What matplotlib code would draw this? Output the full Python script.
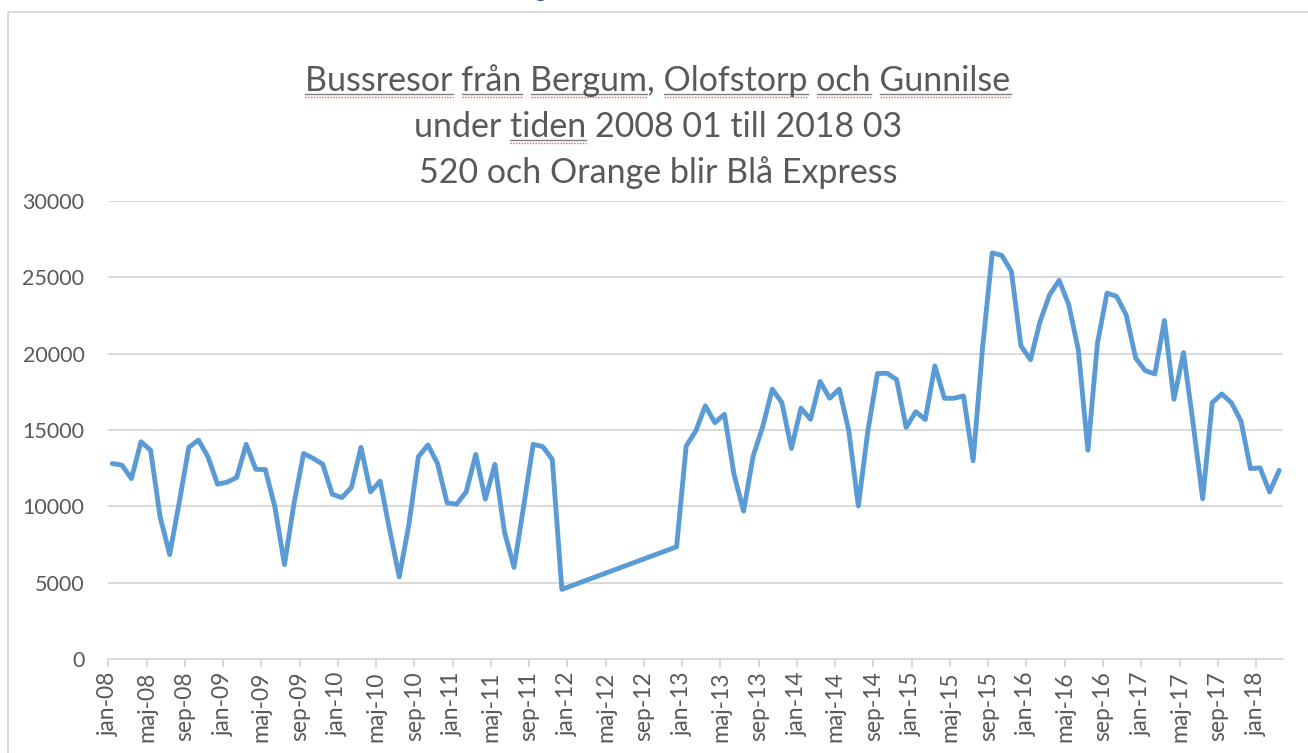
import numpy as np
import matplotlib
matplotlib.use("Agg")
import matplotlib.pyplot as plt
from matplotlib.patches import Rectangle
from matplotlib.lines import Line2D
from matplotlib.font_manager import FontProperties

plt.rcParams['font.family'] = ['Lato', 'DejaVu Sans']

# monthly bus trips, jan-08 .. mar-18 (2012 jan-nov missing)
month_names = ['jan', 'feb', 'mar', 'apr', 'maj', 'jun',
               'jul', 'aug', 'sep', 'okt', 'nov', 'dec']
years = list(range(8, 19))

trips_2008 = [12800, 12700, 11820, 14230, 13680, 9300, 6840, 10280, 13860, 14340, 13250, 11450]
trips_2009 = [11580, 11890, 14060, 12430, 12410, 9960, 6180, 10200, 13460, 13140, 12760, 10790]
trips_2010 = [10570, 11240, 13860, 10950, 11650, 8440, 5380, 8770, 13250, 14020, 12810, 10230]
trips_2011 = [10140, 10950, 13400, 10470, 12750, 8330, 6000, 9970, 14060, 13910, 13080, 4560]
trips_2012 = [None] * 11 + [7350]
trips_2013 = [13950, 14930, 16580, 15480, 16030, 12100, 9690, 13290, 15220, 17680, 16800, 13790]
trips_2014 = [16430, 15700, 18180, 17080, 17680, 14960, 10020, 14960, 18700, 18720, 18300, 15170]
trips_2015 = [16200, 15690, 19200, 17080, 17080, 17230, 12990, 20470, 26600, 26440, 25390, 20510]
trips_2016 = [19600, 22110, 23860, 24800, 23200, 20250, 13680, 20690, 23970, 23750, 22550, 19700]
trips_2017 = [18890, 18670, 22170, 17010, 20070, 15430, 10500, 16790, 17360, 16790, 15600, 12470]
trips_2018 = [12520, 10940, 12360]

trips = (trips_2008 + trips_2009 + trips_2010 + trips_2011 + trips_2012 + trips_2013
         + trips_2014 + trips_2015 + trips_2016 + trips_2017 + trips_2018)
labels = [f"{m}-{y:02d}" for y in years for m in month_names][:len(trips)]

title_lines = ["Bussresor från Bergum, Olofstorp och Gunnilse",
               "under tiden 2008 01 till 2018 03",
               "520 och Orange blir Blå Express"]
# words flagged by the spell checker in the original
flagged = {0: ["Bussresor", "från", "Bergum", "Olofstorp", "och", "Gunnilse"],
           1: ["tiden"]}

W, H = 1308, 753
fig = plt.figure(figsize=(W / 100, H / 100), dpi=100)
ax = fig.add_axes([108 / W, 1 - 659 / H, (1283 - 108) / W, (659 - 201) / H])

y = np.array([np.nan if v is None else v for v in trips], dtype=float)
x = np.arange(len(y))
ok = ~np.isnan(y)
ax.plot(x[ok], y[ok], color='#5b9bd5', lw=3.5, solid_joinstyle='round',
        solid_capstyle='round', zorder=3)

ax.set_ylim(0, 30000)
ax.set_xlim(-0.45, 122.4)
ax.set_yticks(range(0, 30001, 5000))
ax.yaxis.grid(True, color='#d9d9d9', lw=1.4)
ax.set_axisbelow(True)
for s in ['top', 'right', 'left']:
    ax.spines[s].set_visible(False)
ax.spines['bottom'].set_color('#d9d9d9')
ax.spines['bottom'].set_linewidth(1.4)

tick_idx = list(range(0, len(trips), 4))
ax.set_xticks([i - 0.42 for i in tick_idx])
ax.set_xticklabels([labels[i] for i in tick_idx], rotation=90)
ax.tick_params(axis='x', colors='#d9d9d9', length=6, width=1.4, pad=3,
               labelsize=16.5, labelcolor='#595959')
ax.tick_params(axis='y', length=0, pad=17, labelsize=15.5, labelcolor='#595959')

# chart area border
fig.patches.append(Rectangle((8 / W, -0.1), 1.2, 1.1 - 12 / H, transform=fig.transFigure,
                             fill=False, edgecolor='#d9d9d9', lw=1.4))
# bit of the document heading cut off above the chart
fig.text(540 / W, 1 + 3 / H, "g", color='#2f5597', fontsize=16, ha='center', va='baseline')

# title
cx = 658
baselines = [91, 137, 183]
title_size = 24.5
prop = FontProperties(family=['Lato', 'DejaVu Sans'], size=title_size)
for line, b in zip(title_lines, baselines):
    fig.text(cx / W, 1 - b / H, line, fontproperties=prop, color='#595959',
             ha='center', va='baseline')

renderer = fig.canvas.get_renderer()

def ink_width(s):
    w, h, d = renderer.get_text_width_height_descent(s, prop, ismath=False)
    return w

for li, words in flagged.items():
    line = title_lines[li]
    left = cx - ink_width(line) / 2
    pos = 0
    for wd in words:
        start = line.index(wd, pos)
        pos = start + len(wd)
        x1 = left + ink_width(line[:pos])
        x0 = x1 - ink_width(wd)
        yb = baselines[li]
        fig.lines.append(Line2D([x0 / W, x1 / W], [1 - (yb + 3) / H] * 2,
                                transform=fig.transFigure, color='#7f7f7f', lw=1.0))
        fig.lines.append(Line2D([x0 / W, x1 / W], [1 - (yb + 6) / H] * 2,
                                transform=fig.transFigure, color='#e06666', lw=1.0,
                                linestyle=(0, (1, 1))))

fig.savefig('out.png', dpi=100)
